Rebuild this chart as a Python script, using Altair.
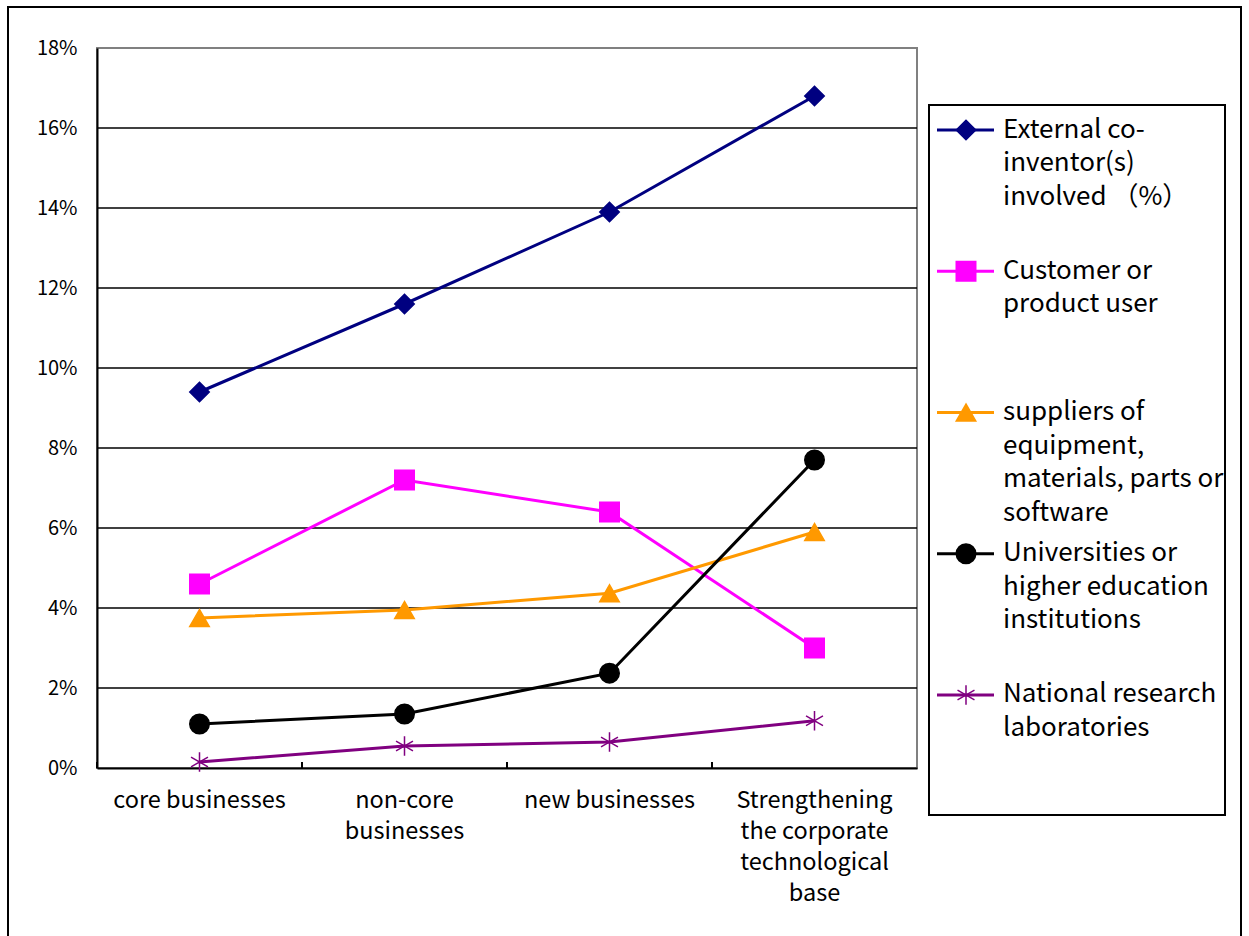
import altair as alt
import pandas as pd

categories = ["core businesses", "non-core\nbusinesses", "new businesses",
              "Strengthening\nthe corporate\ntechnological\nbase"]
series = ["External co-inventor(s) involved (%)", "Customer or product user",
          "suppliers of equipment, materials, parts or software",
          "Universities or higher education institutions",
          "National research laboratories"]
legend_labels = ["External co-\ninventor(s)\ninvolved （%）", "Customer or\nproduct user",
                 "suppliers of\nequipment,\nmaterials, parts or\nsoftware",
                 "Universities or\nhigher education\ninstitutions",
                 "National research\nlaboratories"]
external = [0.094, 0.116, 0.139, 0.168]
customer = [0.046, 0.072, 0.064, 0.030]
suppliers = [0.0375, 0.0395, 0.0437, 0.059]
universities = [0.011, 0.0135, 0.0237, 0.077]
national = [0.0015, 0.0055, 0.0065, 0.0118]
y_ticks = [0.0, 0.02, 0.04, 0.06, 0.08, 0.10, 0.12, 0.14, 0.16, 0.18]
grid_vals = [0.02, 0.04, 0.06, 0.08, 0.10, 0.12, 0.14, 0.16]

colors = ["#000080", "#FF00FF", "#FF9900", "#000000", "#800080"]
asterisk = "M0,-1L0,1M-0.87,-0.5L0.87,0.5M-0.87,0.5L0.87,-0.5"
shapes = ["diamond", "square", "triangle-up", "circle", asterisk]

FONT = "Noto Sans CJK JP"
W, H = 820, 720

rows = []
for s, vals in zip(series, [external, customer, suppliers, universities, national]):
    for c, v in zip(categories, vals):
        rows.append({"series": s, "category": c, "value": v})
df = pd.DataFrame(rows)
leg = pd.DataFrame({"series": series, "label": legend_labels})
cats = pd.DataFrame({"category": categories})
grid = pd.DataFrame({"v": grid_vals})
one = pd.DataFrame({"a": [0]})

color_scale = alt.Scale(domain=series, range=colors)
shape_scale = alt.Scale(domain=series, range=shapes)
yscale = alt.Scale(domain=[0, 0.18], nice=False, zero=True)
xscale = alt.Scale(paddingInner=0, paddingOuter=0)
xaxis = alt.Axis(labelExpr="split(datum.label, '\\n')", labelAngle=0,
                 labelFontSize=23.5, labelLineHeight=31, labelPadding=20,
                 labelColor="black", labelFont=FONT, ticks=False,
                 domainColor="black", domainWidth=2, labelLimit=400)

frame = alt.Chart(one).mark_rect(fill=None, stroke="black", strokeWidth=2).encode(
    x=alt.value(-89), x2=alt.value(1144), y=alt.value(-41), y2=alt.value(910))

gridlines = alt.Chart(grid).mark_rule(color="black", strokeWidth=1.5).encode(
    y=alt.Y("v:Q", scale=yscale, axis=alt.Axis(values=y_ticks, format=".0%", title=None,
             labelFontSize=20, labelColor="black", labelFont=FONT, tickSize=0,
             labelPadding=20, grid=False, domainColor="black", domainWidth=2)))

ticks = alt.Chart(cats).mark_rule(color="black", strokeWidth=2).encode(
    x=alt.X("category:N", sort=categories, bandPosition=0, title=None,
            scale=xscale, axis=xaxis),
    y=alt.value(H - 6), y2=alt.value(H))

lines = alt.Chart(df).mark_line(strokeWidth=3).encode(
    x=alt.X("category:N", sort=categories, title=None, scale=xscale, axis=xaxis),
    y=alt.Y("value:Q", scale=yscale),
    color=alt.Color("series:N", scale=color_scale, legend=None),
    detail="series:N")

points = alt.Chart(df).mark_point(filled=True, opacity=1, size=380, strokeWidth=1.5).encode(
    x=alt.X("category:N", sort=categories, title=None, scale=xscale, axis=xaxis),
    y=alt.Y("value:Q", scale=yscale),
    color=alt.Color("series:N", scale=color_scale, legend=None),
    stroke=alt.Stroke("series:N", scale=color_scale, legend=None),
    shape=alt.Shape("series:N", scale=shape_scale, legend=None))

main = alt.layer(gridlines, ticks, lines, points)

legbox = alt.Chart(one).mark_rect(fill="white", stroke="black", strokeWidth=2).encode(
    x=alt.value(832), x2=alt.value(1128), y=alt.value(57), y2=alt.value(767))

# band scale, no padding: entry centres start at 82 with a step of ~141
ly = alt.Y("series:N", sort=series, axis=None,
           scale=alt.Scale(type="band", range=[11.4, 717.6], paddingInner=0, paddingOuter=0))
leg_rule = alt.Chart(leg).mark_rule(strokeWidth=3).encode(
    x=alt.value(840), x2=alt.value(897), y=ly,
    color=alt.Color("series:N", scale=color_scale, legend=None))
leg_pt = alt.Chart(leg).mark_point(filled=True, opacity=1, size=380, strokeWidth=1.5).encode(
    x=alt.value(869), y=ly,
    color=alt.Color("series:N", scale=color_scale, legend=None),
    stroke=alt.Stroke("series:N", scale=color_scale, legend=None),
    shape=alt.Shape("series:N", scale=shape_scale, legend=None))
leg_txt = alt.Chart(leg).mark_text(align="left", baseline="top", dy=-13.5, lineBreak="\n",
                                   fontSize=26, lineHeight=33.5, font=FONT, color="black").encode(
    x=alt.value(906), y=ly, text="label:N")
legend = alt.layer(leg_rule, leg_pt, leg_txt)

chart = alt.layer(frame, main, legbox, legend).resolve_scale(y="independent").properties(
    width=W, height=H,
    autosize=alt.AutoSizeParams(type="none"),
    padding={"left": 97, "top": 48, "right": 1249 - 97 - W, "bottom": 936 - 48 - H},
    background="white"
).configure_view(stroke="#808080", strokeWidth=2)

chart.save("out.html", embed_options={"renderer": "svg", "actions": False})
